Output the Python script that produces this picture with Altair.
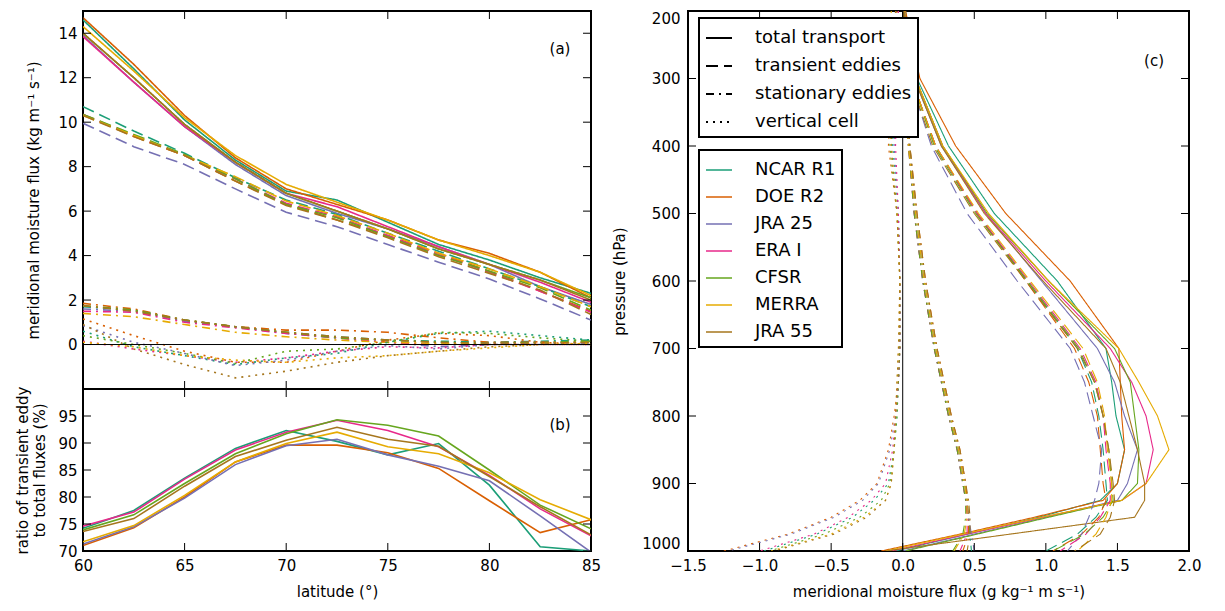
import altair as alt
import pandas as pd

MODELS = ["NCAR R1", "DOE R2", "JRA 25", "ERA I", "CFSR", "MERRA", "JRA 55"]
COLORS = ["#1b9e77", "#d95f02", "#7570b3", "#e7298a", "#66a61e", "#e6ab02", "#a6761d"]
COMPONENTS = ["total transport", "transient eddies", "stationary eddies", "vertical cell"]
DASHES = [[1, 0], [12, 6], [8, 5, 2, 5], [2, 5]]

# ---------------- panel (a) / (b): latitude profiles ----------------
LAT = [60, 62.5, 65, 67.5, 70, 72.5, 75, 77.5, 80, 82.5, 85]

LAT_TOTAL = {
    "NCAR R1": [14.6, 12.4, 10.1, 8.3, 6.9, 6.5, 5.5, 4.5, 3.8, 3.0, 2.3],
    "DOE R2": [14.7, 12.6, 10.3, 8.4, 7.0, 6.3, 5.6, 4.7, 4.1, 3.25, 2.1],
    "JRA 25": [13.9, 11.8, 9.8, 8.1, 6.7, 5.9, 5.2, 4.4, 3.6, 2.6, 1.8],
    "ERA I": [13.85, 11.8, 9.8, 8.2, 6.8, 6.2, 5.3, 4.4, 3.6, 2.8, 1.9],
    "CFSR": [14.0, 12.0, 9.9, 8.2, 6.8, 6.0, 5.2, 4.3, 3.6, 2.9, 2.1],
    "MERRA": [14.3, 12.3, 10.2, 8.5, 7.2, 6.4, 5.6, 4.7, 4.0, 3.25, 2.2],
    "JRA 55": [14.0, 12.0, 9.9, 8.2, 6.8, 6.0, 5.2, 4.3, 3.6, 2.9, 2.0],
}
LAT_TRANSIENT = {
    "NCAR R1": [10.7, 9.6, 8.6, 7.5, 6.5, 5.85, 5.0, 4.2, 3.4, 2.6, 1.7],
    "DOE R2": [10.35, 9.35, 8.5, 7.35, 6.3, 5.6, 4.9, 4.1, 3.3, 2.4, 1.5],
    "JRA 25": [9.95, 8.9, 8.1, 7.0, 5.95, 5.3, 4.5, 3.7, 2.95, 2.05, 1.1],
    "ERA I": [10.35, 9.4, 8.5, 7.45, 6.35, 5.75, 4.9, 4.05, 3.25, 2.4, 1.45],
    "CFSR": [10.35, 9.45, 8.55, 7.45, 6.3, 5.7, 4.85, 4.0, 3.3, 2.55, 1.55],
    "MERRA": [10.3, 9.4, 8.5, 7.55, 6.45, 5.8, 5.0, 4.1, 3.4, 2.6, 1.7],
    "JRA 55": [10.3, 9.35, 8.5, 7.35, 6.25, 5.6, 4.8, 3.95, 3.2, 2.45, 1.35],
}
LAT_STATIONARY = {
    "NCAR R1": [1.7, 1.55, 1.1, 0.8, 0.55, 0.35, 0.2, 0.15, 0.1, 0.15, 0.2],
    "DOE R2": [1.85, 1.6, 1.1, 0.8, 0.65, 0.65, 0.55, 0.3, 0.1, 0.1, 0.1],
    "JRA 25": [1.6, 1.5, 1.05, 0.8, 0.5, 0.3, 0.1, -0.1, 0.0, 0.05, 0.05],
    "ERA I": [1.5, 1.45, 1.0, 0.75, 0.5, 0.3, 0.1, 0.0, 0.05, 0.1, 0.1],
    "CFSR": [1.75, 1.55, 1.1, 0.8, 0.55, 0.3, 0.2, 0.1, 0.05, 0.1, 0.15],
    "MERRA": [1.4, 1.25, 0.9, 0.55, 0.35, 0.2, 0.1, 0.05, 0.0, 0.05, 0.1],
    "JRA 55": [1.75, 1.5, 1.1, 0.8, 0.55, 0.35, 0.2, 0.1, 0.05, 0.05, 0.1],
}
LAT_VERTICAL = {
    "NCAR R1": [0.6, -0.1, -0.5, -0.9, -0.6, -0.4, 0.1, 0.5, 0.6, 0.4, 0.2],
    "DOE R2": [1.15, 0.4, -0.3, -0.8, -0.8, -0.3, 0.2, 0.5, 0.4, 0.1, 0.0],
    "JRA 25": [0.85, 0.1, -0.4, -0.95, -0.7, -0.3, -0.05, -0.2, 0.0, 0.0, 0.0],
    "ERA I": [0.15, -0.2, -0.5, -0.8, -0.6, -0.3, -0.1, -0.15, 0.0, 0.0, 0.0],
    "CFSR": [0.4, 0.0, -0.4, -0.85, -0.3, -0.2, 0.1, 0.55, 0.5, 0.3, 0.15],
    "MERRA": [0.1, -0.1, -0.5, -0.7, -0.8, -0.6, -0.5, -0.3, -0.15, 0.0, 0.05],
    "JRA 55": [0.9, -0.2, -0.9, -1.5, -1.2, -0.8, -0.5, -0.3, -0.1, 0.0, 0.0],
}
RATIO = {
    "NCAR R1": [74.2, 77.5, 83.5, 89.0, 92.3, 90.3, 87.8, 89.9, 82.2, 70.8, 70.0],
    "DOE R2": [71.0, 74.3, 80.0, 86.5, 89.6, 89.6, 88.2, 85.3, 79.3, 73.4, 75.8],
    "JRA 25": [71.3, 74.5, 79.8, 86.0, 89.5, 90.7, 87.8, 85.7, 83.0, 76.5, 69.8],
    "ERA I": [74.6, 77.2, 83.3, 88.7, 92.0, 94.2, 92.3, 89.3, 84.0, 77.8, 72.8],
    "CFSR": [73.9, 76.7, 82.5, 88.0, 91.7, 94.3, 93.3, 91.3, 85.0, 78.5, 74.1],
    "MERRA": [71.7, 74.7, 80.3, 86.5, 89.9, 92.0, 89.3, 88.0, 84.5, 79.5, 75.8],
    "JRA 55": [73.6, 76.0, 82.0, 87.5, 90.5, 92.9, 90.7, 89.4, 83.8, 78.2, 73.0],
}

# ---------------- panel (c): vertical profiles ----------------
PRES = [1000, 975, 950, 925, 900, 850, 800, 750, 700, 600, 500, 400, 300, 200]

P_TOTAL = {
    "NCAR R1": [-0.05, 0.45, 0.95, 1.38, 1.50, 1.55, 1.49, 1.46, 1.42, 1.08, 0.64, 0.32, 0.10, 0.02],
    "DOE R2": [-0.15, 0.40, 0.92, 1.40, 1.50, 1.55, 1.53, 1.52, 1.51, 1.17, 0.72, 0.37, 0.12, 0.02],
    "JRA 25": [0.0, 0.50, 1.0, 1.50, 1.57, 1.64, 1.55, 1.48, 1.36, 0.97, 0.58, 0.27, 0.08, 0.01],
    "ERA I": [-0.08, 0.45, 0.98, 1.53, 1.70, 1.75, 1.70, 1.60, 1.45, 1.00, 0.58, 0.28, 0.09, 0.01],
    "CFSR": [0.02, 0.52, 1.02, 1.53, 1.64, 1.65, 1.62, 1.59, 1.48, 1.02, 0.59, 0.28, 0.09, 0.01],
    "MERRA": [-0.12, 0.42, 0.97, 1.53, 1.70, 1.86, 1.78, 1.65, 1.51, 1.02, 0.60, 0.28, 0.09, 0.01],
    "JRA 55": [-0.12, 0.75, 1.62, 1.69, 1.69, 1.64, 1.58, 1.52, 1.42, 0.98, 0.57, 0.27, 0.08, 0.01],
}
P_TRANSIENT = {
    "NCAR R1": [1.00, 1.22, 1.35, 1.43, 1.42, 1.40, 1.37, 1.32, 1.22, 0.87, 0.52, 0.23, 0.06, 0.01],
    "DOE R2": [1.05, 1.25, 1.37, 1.42, 1.40, 1.38, 1.36, 1.30, 1.20, 0.86, 0.52, 0.23, 0.06, 0.01],
    "JRA 25": [1.15, 1.25, 1.30, 1.34, 1.37, 1.39, 1.33, 1.27, 1.17, 0.80, 0.45, 0.20, 0.05, 0.01],
    "ERA I": [1.10, 1.28, 1.38, 1.45, 1.45, 1.42, 1.40, 1.35, 1.24, 0.88, 0.52, 0.23, 0.06, 0.01],
    "CFSR": [1.05, 1.27, 1.40, 1.47, 1.46, 1.44, 1.40, 1.34, 1.23, 0.87, 0.51, 0.22, 0.06, 0.01],
    "MERRA": [1.22, 1.35, 1.42, 1.46, 1.46, 1.43, 1.41, 1.36, 1.26, 0.89, 0.53, 0.23, 0.06, 0.01],
    "JRA 55": [1.20, 1.38, 1.45, 1.48, 1.47, 1.44, 1.40, 1.34, 1.22, 0.86, 0.50, 0.21, 0.05, 0.01],
}
P_STATIONARY = {
    "NCAR R1": [0.48, 0.47, 0.46, 0.45, 0.43, 0.39, 0.33, 0.28, 0.23, 0.15, 0.09, 0.05, 0.02, 0.0],
    "DOE R2": [0.42, 0.46, 0.46, 0.45, 0.44, 0.40, 0.34, 0.29, 0.24, 0.16, 0.10, 0.05, 0.02, 0.0],
    "JRA 25": [0.50, 0.48, 0.46, 0.44, 0.42, 0.38, 0.32, 0.27, 0.22, 0.14, 0.08, 0.04, 0.01, 0.0],
    "ERA I": [0.40, 0.45, 0.45, 0.44, 0.42, 0.38, 0.32, 0.27, 0.22, 0.14, 0.08, 0.04, 0.01, 0.0],
    "CFSR": [0.35, 0.42, 0.44, 0.44, 0.42, 0.38, 0.32, 0.27, 0.22, 0.14, 0.08, 0.04, 0.01, 0.0],
    "MERRA": [0.36, 0.43, 0.45, 0.45, 0.43, 0.39, 0.33, 0.28, 0.23, 0.15, 0.09, 0.04, 0.01, 0.0],
    "JRA 55": [0.45, 0.47, 0.47, 0.46, 0.44, 0.40, 0.34, 0.29, 0.24, 0.16, 0.10, 0.05, 0.02, 0.0],
}
P_VERTICAL = {
    "NCAR R1": [-0.97, -0.6, -0.35, -0.2, -0.1, -0.06, -0.04, -0.03, -0.02, -0.02, -0.03, -0.07, -0.06, -0.05],
    "DOE R2": [-1.25, -0.8, -0.5, -0.3, -0.18, -0.1, -0.06, -0.03, -0.02, -0.02, -0.04, -0.1, -0.08, -0.04],
    "JRA 25": [-1.22, -0.78, -0.48, -0.28, -0.17, -0.09, -0.05, -0.03, -0.02, -0.02, -0.03, -0.06, -0.05, -0.03],
    "ERA I": [-1.0, -0.62, -0.38, -0.22, -0.12, -0.07, -0.05, -0.03, -0.02, -0.02, -0.03, -0.05, -0.04, -0.03],
    "CFSR": [-0.93, -0.55, -0.3, -0.15, -0.09, -0.06, -0.04, -0.03, -0.02, -0.02, -0.04, -0.09, -0.07, -0.05],
    "MERRA": [-0.92, -0.5, -0.27, -0.12, -0.08, -0.06, -0.05, -0.04, -0.03, -0.02, -0.04, -0.08, -0.1, -0.08],
    "JRA 55": [-0.9, -0.48, -0.25, -0.12, -0.08, -0.06, -0.05, -0.04, -0.03, -0.02, -0.04, -0.08, -0.07, -0.05],
}

# tick values
A_YTICKS = [0, 2, 4, 6, 8, 10, 12, 14]
B_YTICKS = [70, 75, 80, 85, 90, 95]
LAT_TICKS = [60, 65, 70, 75, 80, 85]
C_XTICKS = [-1.5, -1.0, -0.5, 0.0, 0.5, 1.0, 1.5, 2.0]
C_YTICKS = [200, 300, 400, 500, 600, 700, 800, 900, 1000]

FONT = "DejaVu Sans"
WL, HA, HB = 508, 378, 162
WC, HC = 501, 540
TL = 8  # inward tick length
LEG_X = 616


def long_df(xkey, xs, table, comp):
    rows = []
    for m in MODELS:
        for x, v in zip(xs, table[m]):
            rows.append({xkey: x, "value": v, "model": m, "component": comp})
    return pd.DataFrame(rows)


df_a = pd.concat([
    long_df("lat", LAT, LAT_TOTAL, COMPONENTS[0]),
    long_df("lat", LAT, LAT_TRANSIENT, COMPONENTS[1]),
    long_df("lat", LAT, LAT_STATIONARY, COMPONENTS[2]),
    long_df("lat", LAT, LAT_VERTICAL, COMPONENTS[3]),
])
df_b = long_df("lat", LAT, RATIO, COMPONENTS[0])
df_c = pd.concat([
    long_df("p", PRES, P_TOTAL, COMPONENTS[0]),
    long_df("p", PRES, P_TRANSIENT, COMPONENTS[1]),
    long_df("p", PRES, P_STATIONARY, COMPONENTS[2]),
    long_df("p", PRES, P_VERTICAL, COMPONENTS[3]),
])

color_legend = alt.Legend(
    title=None, orient="none", legendX=LEG_X, legendY=139,
    symbolType="stroke", symbolSize=676, symbolStrokeWidth=1.5,
    labelFont=FONT, labelFontSize=18, labelOffset=22, rowPadding=4,
    padding=6, fillColor="white", strokeColor="black", labelLimit=300,
)
dash_legend = alt.Legend(
    title=None, orient="none", legendX=LEG_X, legendY=7,
    symbolType="stroke", symbolSize=676, symbolStrokeWidth=2, symbolStrokeColor="black",
    labelFont=FONT, labelFontSize=18, labelOffset=22, rowPadding=5,
    padding=6, fillColor="white", strokeColor="black", labelLimit=300,
)
color_enc = alt.Color("model:N", scale=alt.Scale(domain=MODELS, range=COLORS), legend=color_legend)
dash_enc = alt.StrokeDash("component:N", scale=alt.Scale(domain=COMPONENTS, range=DASHES), legend=dash_legend)


def tick_layers(xf, xscale, xaxis, xvals, yf, yscale, yaxis, yvals, w, h):
    xdf = pd.DataFrame({xf: xvals})
    ydf = pd.DataFrame({yf: yvals})
    rx = alt.Chart(xdf).mark_rule(color="black", strokeWidth=1)
    ry = alt.Chart(ydf).mark_rule(color="black", strokeWidth=1)
    X = alt.X(f"{xf}:Q", scale=xscale, axis=xaxis)
    Y = alt.Y(f"{yf}:Q", scale=yscale, axis=yaxis)
    return [
        rx.encode(x=X, y=alt.value(h), y2=alt.value(h - TL)),
        rx.encode(x=X, y=alt.value(0), y2=alt.value(TL)),
        ry.encode(y=Y, x=alt.value(0), x2=alt.value(TL)),
        ry.encode(y=Y, x=alt.value(w), x2=alt.value(w - TL)),
    ]


def label(txt, x, y):
    return alt.Chart(pd.DataFrame({"t": [txt]})).mark_text(
        font=FONT, fontSize=15, align="center", baseline="middle", color="black"
    ).encode(x=alt.value(x), y=alt.value(y), text="t:N")


# ---- panel (a)
xs_lat = alt.Scale(domain=[60, 85], nice=False, zero=False)
ys_a = alt.Scale(domain=[-2, 15], nice=False, zero=False)
ax_ya = alt.Axis(values=A_YTICKS, title="meridional moisture flux (kg m⁻¹ s⁻¹)",
                 titlePadding=16, labelPadding=6, labelFlush=False, labelOverlap=False)
lines_a = alt.Chart(df_a).mark_line(strokeWidth=1.6, clip=True).encode(
    x=alt.X("lat:Q", scale=xs_lat, axis=None),
    y=alt.Y("value:Q", scale=ys_a, axis=ax_ya),
    color=color_enc, strokeDash=dash_enc,
    detail="model:N",
)
zero_a = alt.Chart(pd.DataFrame({"value": [0]})).mark_rule(color="black", strokeWidth=1).encode(
    y=alt.Y("value:Q", scale=ys_a, axis=ax_ya))
panel_a = alt.layer(
    lines_a, zero_a,
    *tick_layers("lat", xs_lat, None, LAT_TICKS, "value", ys_a, ax_ya, A_YTICKS, WL, HA),
    label("(a)", WL - 31, 38),
).properties(width=WL, height=HA)

# ---- panel (b)
ys_b = alt.Scale(domain=[70, 100], nice=False, zero=False)
ax_xb = alt.Axis(values=LAT_TICKS, title="latitude (°)", labelPadding=7, titlePadding=11,
                 labelFlush=False, labelOverlap=False)
ax_yb = alt.Axis(values=B_YTICKS, title=["ratio of transient eddy", "to total fluxes (%)"],
                 titlePadding=10, labelPadding=6, labelFlush=False, labelOverlap=False)
lines_b = alt.Chart(df_b).mark_line(strokeWidth=1.6, clip=True).encode(
    x=alt.X("lat:Q", scale=xs_lat, axis=ax_xb),
    y=alt.Y("value:Q", scale=ys_b, axis=ax_yb),
    color=color_enc,
)
panel_b = alt.layer(
    lines_b,
    *tick_layers("lat", xs_lat, ax_xb, LAT_TICKS, "value", ys_b, ax_yb, B_YTICKS, WL, HB),
    label("(b)", WL - 31, 36),
).properties(width=WL, height=HB)

# ---- panel (c)
xs_c = alt.Scale(domain=[-1.5, 2.0], nice=False, zero=False)
ys_c = alt.Scale(domain=[200, 1000], reverse=True, nice=False, zero=False)
ax_xc = alt.Axis(values=C_XTICKS, format=".1f", title="meridional moisture flux (g kg⁻¹ m s⁻¹)",
                 labelPadding=7, titlePadding=11, labelFlush=False, labelOverlap=False)
ax_yc = alt.Axis(values=C_YTICKS, format="d", title="pressure (hPa)", labelPadding=8,
                 titlePadding=14, labelFlush=True, labelOverlap=False)
lines_c = alt.Chart(df_c).mark_line(strokeWidth=1.1, clip=True).encode(
    x=alt.X("value:Q", scale=xs_c, axis=ax_xc),
    y=alt.Y("p:Q", scale=ys_c, axis=ax_yc),
    color=color_enc, strokeDash=dash_enc,
    order=alt.Order("p:Q"),
    detail="model:N",
)
zero_c = alt.Chart(pd.DataFrame({"value": [0]})).mark_rule(color="black", strokeWidth=1).encode(
    x=alt.X("value:Q", scale=xs_c, axis=ax_xc))
panel_c = alt.layer(
    lines_c, zero_c,
    *tick_layers("value", xs_c, ax_xc, C_XTICKS, "p", ys_c, ax_yc, C_YTICKS, WC, HC),
    label("(c)", WC - 35, 50),
).properties(width=WC, height=HC)

left = alt.vconcat(panel_a, panel_b, spacing=0, bounds="flush")
chart = alt.hconcat(left, panel_c, spacing=9).properties(
    padding={"left": 6, "top": 1, "right": 5, "bottom": 2}
).configure_view(
    stroke="black", strokeWidth=2
).configure_axis(
    grid=False, ticks=False, domain=False, labelFont=FONT, titleFont=FONT,
    labelFontSize=15, titleFontSize=15, titleFontWeight="normal", labelColor="black",
    titleColor="black",
).configure_legend(
    strokeWidth=2
).configure_text(font=FONT)

chart.save("out.html", embed_options={"renderer": "svg", "actions": False})
